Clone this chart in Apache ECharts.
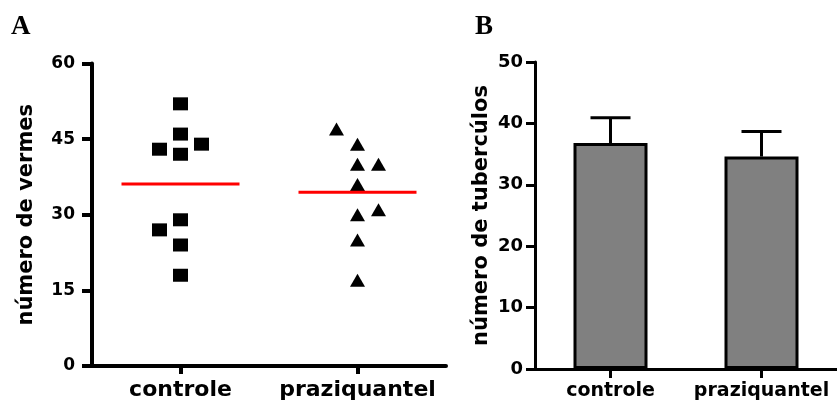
<!DOCTYPE html>
<html>
<head>
<meta charset="utf-8">
<script src="https://cdn.jsdelivr.net/npm/echarts@6/dist/echarts.min.js"></script>
<style>
  html, body { margin: 0; padding: 0; background: #fff; }
  #chart { width: 837px; height: 401px; }
</style>
</head>
<body>
<div id="chart"></div>
<script>
// Groups shared by both panels
const categories = ['controle', 'praziquantel'];

// Panel A: worm counts per animal
const controleVermes = [52, 46, 44, 43, 42, 29, 27, 24, 18];
const praziquantelVermes = [47, 44, 40, 40, 36, 31, 30, 25, 17];
// dot-plot column of each point (-1 left, 0 centre, 1 right) so close values do not overlap
const controleColumn = [0, 0, 1, -1, 0, 0, -1, 0, 0];
const praziquantelColumn = [-1, 0, 0, 1, 0, 1, 0, 0, 0];
const vermesAxis = { min: 0, max: 60, step: 15 };

// Panel B: tubercle counts, mean and SEM
const tuberculosMean = [36.8, 34.6];
const tuberculosSem = [4.1, 4.1];
const tuberculosAxis = { min: 0, max: 50, step: 10 };

const BOLD = 'DejaVu Sans';
const COLUMN_SPREAD = 21;

const mean = arr => arr.reduce((s, v) => s + v, 0) / arr.length;

function dots(values, columns, catIndex) {
  return values.map((v, i) => ({
    value: [catIndex, v],
    symbolOffset: [columns[i] * COLUMN_SPREAD, 0]
  }));
}

const chart = echarts.init(document.getElementById('chart'), null, { renderer: 'canvas' });

const axisBase = (w) => ({
  axisLine: { show: true, lineStyle: { color: '#000', width: w } },
  splitLine: { show: false }
});

chart.setOption({
  animation: false,
  backgroundColor: '#fff',
  title: [
    { text: 'A', left: 11, top: 14, padding: 0,
      textStyle: { fontFamily: 'Liberation Serif', fontWeight: 'bold', fontSize: 27, color: '#000' } },
    { text: 'B', left: 475, top: 14, padding: 0,
      textStyle: { fontFamily: 'Liberation Serif', fontWeight: 'bold', fontSize: 27, color: '#000' } }
  ],
  grid: [
    { left: 92, top: 63.5, width: 354, height: 303 },
    { left: 535, top: 62, width: 307, height: 307 }
  ],
  xAxis: [
    Object.assign(axisBase(4), {
      gridIndex: 0, type: 'category', data: categories, boundaryGap: true,
      axisTick: { show: true, alignWithLabel: true, length: 8, lineStyle: { color: '#000', width: 4 } },
      axisLabel: { interval: 0, hideOverlap: false, color: '#000', fontFamily: BOLD, fontWeight: 'bold', fontSize: 22, margin: 13 }
    }),
    Object.assign(axisBase(3), {
      gridIndex: 1, type: 'category', data: categories, boundaryGap: true,
      axisTick: { show: true, alignWithLabel: true, length: 9, lineStyle: { color: '#000', width: 3 } },
      axisLabel: { interval: 0, hideOverlap: false, color: '#000', fontFamily: BOLD, fontWeight: 'bold', fontSize: 19, margin: 13 }
    })
  ],
  yAxis: [
    Object.assign(axisBase(4), {
      gridIndex: 0, type: 'value',
      min: vermesAxis.min, max: vermesAxis.max, interval: vermesAxis.step,
      axisTick: { show: true, length: 10, lineStyle: { color: '#000', width: 4 } },
      axisLabel: { color: '#000', fontFamily: BOLD, fontWeight: 'bold', fontSize: 17, margin: 17 },
      name: 'número de vermes', nameLocation: 'middle', nameRotate: 90, nameGap: 55,
      nameTextStyle: { color: '#000', fontFamily: BOLD, fontWeight: 'bold', fontSize: 21 }
    }),
    Object.assign(axisBase(3), {
      gridIndex: 1, type: 'value',
      min: tuberculosAxis.min, max: tuberculosAxis.max, interval: tuberculosAxis.step,
      axisTick: { show: true, length: 9, lineStyle: { color: '#000', width: 3 } },
      axisLabel: { color: '#000', fontFamily: BOLD, fontWeight: 'bold', fontSize: 18, margin: 12 },
      name: 'número de tubercúlos', nameLocation: 'middle', nameRotate: 90, nameGap: 43,
      nameTextStyle: { color: '#000', fontFamily: BOLD, fontWeight: 'bold', fontSize: 21 }
    })
  ],
  series: [
    {
      name: 'controle', type: 'scatter', xAxisIndex: 0, yAxisIndex: 0,
      symbol: 'rect', symbolSize: [15, 13],
      itemStyle: { color: '#000', opacity: 1 },
      data: dots(controleVermes, controleColumn, 0)
    },
    {
      name: 'praziquantel', type: 'scatter', xAxisIndex: 0, yAxisIndex: 0,
      symbol: 'triangle', symbolSize: [15, 13],
      itemStyle: { color: '#000', opacity: 1 },
      data: dots(praziquantelVermes, praziquantelColumn, 1)
    },
    {
      // group means drawn as short horizontal bars
      name: 'média', type: 'scatter', xAxisIndex: 0, yAxisIndex: 0, z: 5,
      symbol: 'rect', symbolSize: [118, 3],
      itemStyle: { color: '#ff0000', opacity: 1 },
      data: [[0, mean(controleVermes)], [1, mean(praziquantelVermes)]]
    },
    {
      name: 'tubercúlos', type: 'bar', xAxisIndex: 1, yAxisIndex: 1,
      barWidth: 74,
      itemStyle: { color: '#808080', borderColor: '#000', borderWidth: 3 },
      data: tuberculosMean
    },
    {
      // upper error bar (mean + SEM)
      name: 'sem', type: 'custom', xAxisIndex: 1, yAxisIndex: 1, z: 3,
      encode: { x: 0, y: 1 },
      data: tuberculosMean.map((m, i) => [i, m, tuberculosSem[i]]),
      renderItem: function (params, api) {
        const x = api.value(0);
        const m = api.value(1);
        const e = api.value(2);
        const base = api.coord([x, m]);
        const top = api.coord([x, m + e]);
        const half = 20;
        const style = { stroke: '#000', lineWidth: 3, fill: null };
        return {
          type: 'group',
          children: [
            { type: 'line', shape: { x1: base[0], y1: base[1], x2: top[0], y2: top[1] }, style: style },
            { type: 'line', shape: { x1: top[0] - half, y1: top[1], x2: top[0] + half, y2: top[1] }, style: style }
          ]
        };
      }
    }
  ]
});
</script>
</body>
</html>
